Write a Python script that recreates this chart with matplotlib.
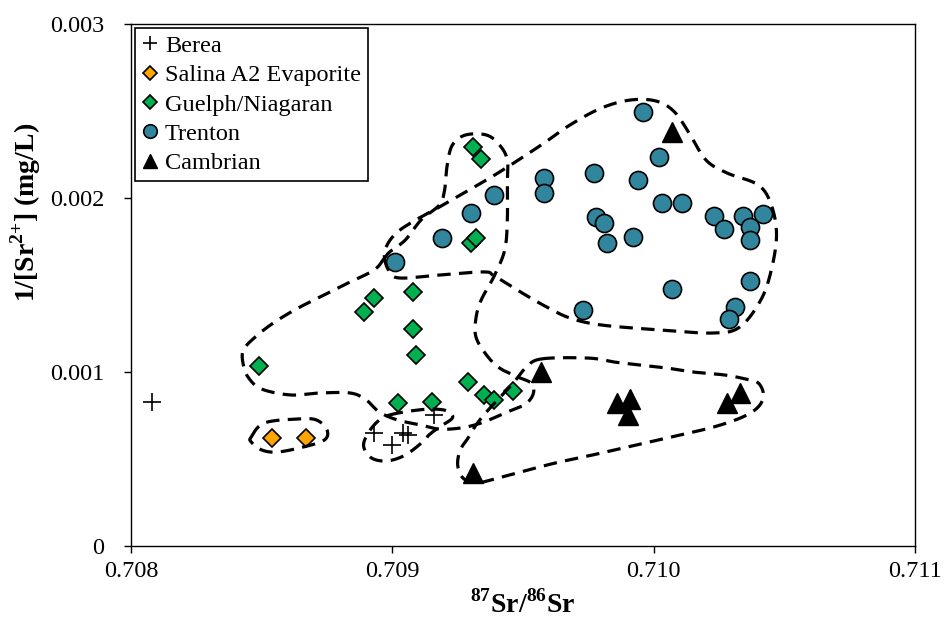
import numpy as np
import matplotlib
matplotlib.use("Agg")
import matplotlib.pyplot as plt
from matplotlib.ticker import FixedLocator, FuncFormatter

# =============================================================================
# FUENTES
# =============================================================================
plt.rcParams['font.family'] = ['Liberation Serif', 'DejaVu Serif']
plt.rcParams['mathtext.fontset'] = 'custom'
plt.rcParams['mathtext.rm'] = 'Liberation Serif'
plt.rcParams['mathtext.bf'] = 'Liberation Serif:bold'

# =============================================================================
# DATOS (87Sr/86Sr, 1/[Sr2+])
# =============================================================================
berea_x = [0.70808, 0.70893, 0.70900, 0.70904, 0.70906, 0.70916]
berea_y = [0.00083, 0.00065, 0.00058, 0.00065, 0.00064, 0.00075]

salina_x = [0.70854, 0.70867]
salina_y = [0.00062, 0.00062]

guelph_x = [0.70849, 0.70893, 0.70889, 0.70908, 0.70908, 0.70909, 0.70902, 0.70915,
            0.70929, 0.70935, 0.70939, 0.70946, 0.70931, 0.70934, 0.70930, 0.70932]
guelph_y = [0.001034, 0.001427, 0.001345, 0.001462, 0.001247, 0.001100, 0.000824, 0.000828,
            0.000944, 0.000866, 0.000839, 0.000893, 0.002291, 0.002222, 0.001740, 0.001768]

trenton_x = [0.70939, 0.70930, 0.70919, 0.70901, 0.70958, 0.70958, 0.70996, 0.71002,
             0.70977, 0.70994, 0.71003, 0.71011, 0.70978, 0.70981, 0.70982, 0.70992,
             0.71023, 0.71027, 0.71034, 0.71037, 0.71037, 0.71042, 0.71037, 0.71007,
             0.70973, 0.71031, 0.71029]
trenton_y = [0.002017, 0.001912, 0.001768, 0.001634, 0.002113, 0.002027, 0.002496, 0.002237,
             0.002142, 0.002103, 0.001969, 0.001969, 0.001893, 0.001854, 0.001740, 0.001774,
             0.001897, 0.001820, 0.001897, 0.001835, 0.001759, 0.001906, 0.001523, 0.001477,
             0.001356, 0.001375, 0.001305]

cambrian_x = [0.70957, 0.70986, 0.70991, 0.70990, 0.71028, 0.71033, 0.70931, 0.71007]
cambrian_y = [0.001002, 0.000820, 0.000843, 0.000753, 0.000820, 0.000877, 0.000418, 0.002381]

# Contornos dibujados a mano (vértices en unidades de datos, y en 1e-3)
env_trenton_x = [0.70897, 0.70899, 0.70903, 0.70918, 0.70935, 0.70939, 0.70949, 0.70959,
                 0.70968, 0.70980, 0.71003, 0.71023, 0.71033, 0.71041, 0.71045, 0.71047,
                 0.71045, 0.71040, 0.71028, 0.71020, 0.71014, 0.71008, 0.71001, 0.70991,
                 0.70980, 0.70968, 0.70957, 0.70941, 0.70928, 0.70918, 0.70909, 0.70902,
                 0.70898]
env_trenton_y = [1.655, 1.575, 1.540, 1.557, 1.575, 1.552, 1.460, 1.374, 1.310, 1.270, 1.241,
                 1.224, 1.259, 1.414, 1.586, 1.787, 1.960, 2.075, 2.144, 2.218, 2.362, 2.494,
                 2.557, 2.563, 2.517, 2.420, 2.305, 2.149, 2.034, 1.948, 1.874, 1.805, 1.730]

env_guelph_x = [0.70897, 0.70893, 0.70883, 0.70874, 0.70864, 0.70855, 0.70848, 0.70843,
                0.70843, 0.70845, 0.70850, 0.70861, 0.70872, 0.70884, 0.70890, 0.70895,
                0.70902, 0.70911, 0.70918, 0.70926, 0.70934, 0.70944, 0.70951, 0.70954,
                0.70953, 0.70948, 0.70941, 0.70936, 0.70932, 0.70932, 0.70934, 0.70939,
                0.70943, 0.70944, 0.70944, 0.70944, 0.70941, 0.70936, 0.70928, 0.70923,
                0.70921, 0.70920, 0.70918, 0.70911, 0.70905, 0.70899]
env_guelph_y = [1.655, 1.586, 1.511, 1.443, 1.368, 1.287, 1.207, 1.126, 1.040, 0.966, 0.902,
                0.868, 0.879, 0.879, 0.839, 0.770, 0.724, 0.695, 0.672, 0.678, 0.707, 0.770,
                0.816, 0.879, 0.937, 0.971, 1.023, 1.098, 1.201, 1.310, 1.414, 1.552, 1.701,
                1.874, 2.075, 2.218, 2.305, 2.362, 2.362, 2.305, 2.190, 2.046, 1.960, 1.874,
                1.759, 1.690]

env_salina_x = [0.70846, 0.70851, 0.70864, 0.70871, 0.70875, 0.70874, 0.70866, 0.70856,
                0.70850, 0.70846]
env_salina_y = [0.626, 0.707, 0.730, 0.724, 0.667, 0.609, 0.569, 0.540, 0.552, 0.598]

env_berea_x = [0.70899, 0.70907, 0.70915, 0.70921, 0.70923, 0.70918, 0.70914, 0.70912,
               0.70905, 0.70898, 0.70892, 0.70889, 0.70891, 0.70895]
env_berea_y = [0.753, 0.776, 0.787, 0.776, 0.736, 0.684, 0.638, 0.603, 0.523, 0.489, 0.506,
               0.575, 0.655, 0.724]

env_cambrian_x = [0.70957, 0.70975, 0.70985, 0.70995, 0.71005, 0.71015, 0.71027, 0.71035,
                  0.71040, 0.71042, 0.71040, 0.71034, 0.71023, 0.71010, 0.70995, 0.70980,
                  0.70964, 0.70949, 0.70939, 0.70932, 0.70927, 0.70925, 0.70926, 0.70929,
                  0.70932, 0.70936, 0.70941, 0.70946, 0.70951]
env_cambrian_y = [1.075, 1.080, 1.057, 1.040, 1.023, 1.000, 0.983, 0.960, 0.937, 0.868, 0.799,
                  0.741, 0.684, 0.638, 0.586, 0.534, 0.483, 0.425, 0.385, 0.362, 0.391, 0.466,
                  0.552, 0.621, 0.695, 0.770, 0.851, 0.931, 1.023]

x_ticks = [0.708, 0.709, 0.710, 0.711]
y_ticks = [0.0, 0.001, 0.002, 0.003]


# =============================================================================
# FUNCIONES
# =============================================================================
def smooth_closed(xs, ys, n=16):
    """Curva Catmull-Rom cerrada que pasa por los vértices"""
    p = np.column_stack([xs, np.asarray(ys) * 1e-3])
    m = len(p)
    t = np.linspace(0, 1, n, endpoint=False)[:, None]
    segs = []
    for i in range(m):
        p0, p1, p2, p3 = p[i - 1], p[i], p[(i + 1) % m], p[(i + 2) % m]
        seg = 0.5 * (2 * p1 + (-p0 + p2) * t
                     + (2 * p0 - 5 * p1 + 4 * p2 - p3) * t ** 2
                     + (-p0 + 3 * p1 - 3 * p2 + p3) * t ** 3)
        segs.append(seg)
    out = np.vstack(segs + [p[:1]])
    return out[:, 0], out[:, 1]


# =============================================================================
# FIGURA
# =============================================================================
fig = plt.figure(figsize=(9.45, 6.17), dpi=100)
ax = fig.add_axes([0.1386, 0.1151, 0.8297, 0.846])

ax.plot(berea_x, berea_y, ls='none', marker='+', ms=13, mew=1.2, color='black',
        label='Berea', zorder=3)
ax.plot(salina_x, salina_y, ls='none', marker='D', ms=9, mew=1.2, mfc='#FFA500',
        mec='black', label='Salina A2 Evaporite', zorder=3)
ax.plot(guelph_x, guelph_y, ls='none', marker='D', ms=9, mew=1.2, mfc='#00B050',
        mec='black', label='Guelph/Niagaran', zorder=3)
ax.plot(trenton_x, trenton_y, ls='none', marker='o', ms=13, mew=1.2, mfc='#31859C',
        mec='black', label='Trenton', zorder=3)
ax.plot(cambrian_x, cambrian_y, ls='none', marker='^', ms=14, mew=1.0, color='black',
        label='Cambrian', zorder=3)

for ex, ey in [(env_trenton_x, env_trenton_y), (env_guelph_x, env_guelph_y),
               (env_salina_x, env_salina_y), (env_berea_x, env_berea_y),
               (env_cambrian_x, env_cambrian_y)]:
    sx, sy = smooth_closed(ex, ey)
    ax.plot(sx, sy, color='black', lw=2.3, ls=(0, (4.2, 2.6)), zorder=4)

ax.set_xlim(0.708, 0.711)
ax.set_ylim(0, 0.003)
ax.xaxis.set_major_locator(FixedLocator(x_ticks))
ax.yaxis.set_major_locator(FixedLocator(y_ticks))
ax.xaxis.set_major_formatter(FuncFormatter(lambda v, _: f'{v:.3f}'))
ax.yaxis.set_major_formatter(FuncFormatter(lambda v, _: '0' if v == 0 else f'{v:.3f}'))
ax.tick_params(direction='out', length=5, width=1, labelsize=17.5, colors='black')
ax.tick_params(axis='y', pad=14)
ax.tick_params(axis='x', pad=6)
for s in ax.spines.values():
    s.set_linewidth(1.0)

ax.set_xlabel(r'$^{\mathbf{87}}$Sr/$^{\mathbf{86}}$Sr', fontsize=20, fontweight='bold')
ax.xaxis.set_label_coords(0.5, -0.084)
ax.set_ylabel(r'1/[Sr$^{\mathbf{2{+}}}$] (mg/L)', fontsize=20, fontweight='bold')
ax.yaxis.set_label_coords(-0.112, 0.64)

leg = ax.legend(loc='upper left', bbox_to_anchor=(0.0, 1.0), borderaxespad=0.15,
                fancybox=False, edgecolor='black', framealpha=1, fontsize=17.5,
                markerscale=0.75, handlelength=0.7, handletextpad=0.25,
                labelspacing=0.3, borderpad=0.3)
leg.get_frame().set_linewidth(1.2)

fig.savefig('out.png', dpi=100)
